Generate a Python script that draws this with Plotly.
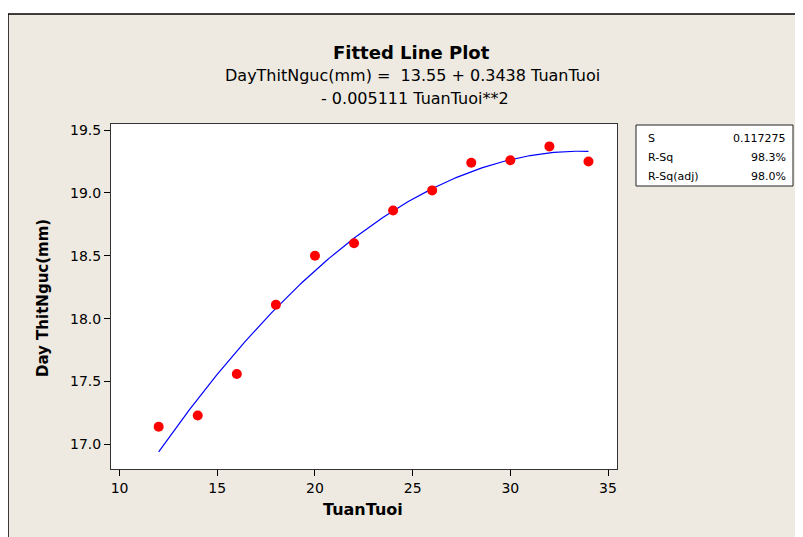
import numpy as np
import plotly.graph_objects as go

# ---- data ----
tuan_tuoi = [12, 14, 16, 18, 20, 22, 24, 26, 28, 30, 32, 34]
day_thit_nguc = [17.14, 17.23, 17.56, 18.11, 18.50, 18.60, 18.86, 19.02, 19.24, 19.26, 19.37, 19.25]
coef_b0 = 13.55
coef_b1 = 0.3438
coef_b2 = -0.005111
x_ticks = [10, 15, 20, 25, 30, 35]
y_ticks = [17.0, 17.5, 18.0, 18.5, 19.0, 19.5]
stat_labels = ["S", "R-Sq", "R-Sq(adj)"]
stat_values = ["0.117275", "98.3%", "98.0%"]

W, H = 803, 537
OFF = 8  # page body margin offset
L, R, T, B = 111 - OFF, 617 - OFF, 124 - OFF, 469 - OFF  # plot area in figure pixels


def px(x):
    return (x - OFF - L) / (R - L)


def py(y):
    return (B - (y - OFF)) / (B - T)


xfit = np.linspace(min(tuan_tuoi), max(tuan_tuoi), 200)
yfit = coef_b0 + coef_b1 * xfit + coef_b2 * xfit ** 2

fig = go.Figure()
fig.add_trace(go.Scatter(x=xfit, y=yfit, mode="lines",
                         line=dict(color="#0000FF", width=1.2),
                         hoverinfo="skip", showlegend=False))
fig.add_trace(go.Scatter(x=tuan_tuoi, y=day_thit_nguc, mode="markers",
                         marker=dict(color="#FF0000", size=10),
                         showlegend=False))

BG = "#EEEAE1"
shapes = [
    dict(type="rect", xref="paper", yref="paper", layer="below",
         x0=px(8), x1=px(830), y0=py(14), y1=py(560),
         fillcolor=BG, line=dict(color="#000000", width=1.5)),
    dict(type="rect", xref="paper", yref="paper", layer="below",
         x0=0, x1=1, y0=0, y1=1, fillcolor="#FFFFFF", line=dict(width=0)),
    dict(type="rect", xref="paper", yref="paper",
         x0=px(636), x1=px(793), y0=py(125), y1=py(186),
         fillcolor="#FFFFFF", line=dict(color="#222222", width=1)),
]

FONT = "DejaVu Sans"
annotations = [
    dict(text="<b>Fitted Line Plot</b>", x=px(411), y=py(52),
         font=dict(size=18, color="#000000", family=FONT)),
    dict(text="DayThitNguc(mm) =&nbsp; 13.55 + 0.3438 TuanTuoi", x=px(412), y=py(75),
         font=dict(size=16, color="#000000", family=FONT)),
    dict(text="- 0.005111 TuanTuoi**2", x=px(415), y=py(99),
         font=dict(size=16, color="#000000", family=FONT)),
    dict(text="<b>TuanTuoi</b>", x=px(363), y=py(510),
         font=dict(size=16, color="#000000", family=FONT)),
    dict(text="<b>Day ThitNguc(mm)</b>", x=px(43), y=py(298), textangle=-90,
         font=dict(size=15, color="#000000", family=FONT)),
]
for i, (lab, val) in enumerate(zip(stat_labels, stat_values)):
    yy = py(138 + i * 19)
    annotations.append(dict(text=lab, x=px(646), y=yy, xanchor="left",
                            font=dict(size=11, color="#000000", family=FONT)))
    annotations.append(dict(text=val, x=px(788), y=yy, xanchor="right",
                            font=dict(size=11, color="#000000", family=FONT)))
for a in annotations:
    a.setdefault("xref", "paper")
    a.setdefault("yref", "paper")
    a.setdefault("showarrow", False)
    a.setdefault("xanchor", "center")
    a.setdefault("yanchor", "middle")

fig.update_layout(
    width=W, height=H,
    margin=dict(l=L, r=W - R, t=T, b=H - B, pad=0),
    paper_bgcolor="#FFFFFF",
    plot_bgcolor="#FFFFFF",
    shapes=shapes,
    annotations=annotations,
    font=dict(family=FONT, size=14, color="#000000"),
    xaxis=dict(range=[9.56, 35.46], tickvals=x_ticks, ticks="outside",
               ticklen=6, tickcolor="#000000", showgrid=False, zeroline=False,
               showline=True, linecolor="#333333", linewidth=1, mirror=True,
               tickfont=dict(size=14, family=FONT, color="#000000")),
    yaxis=dict(range=[16.804, 19.548], tickvals=y_ticks, tickformat=".1f",
               ticks="outside", ticklen=6, tickcolor="#000000", showgrid=False,
               zeroline=False, showline=True, linecolor="#333333", linewidth=1,
               mirror=True, tickfont=dict(size=14, family=FONT, color="#000000")),
)

fig.write_html("out.html")
